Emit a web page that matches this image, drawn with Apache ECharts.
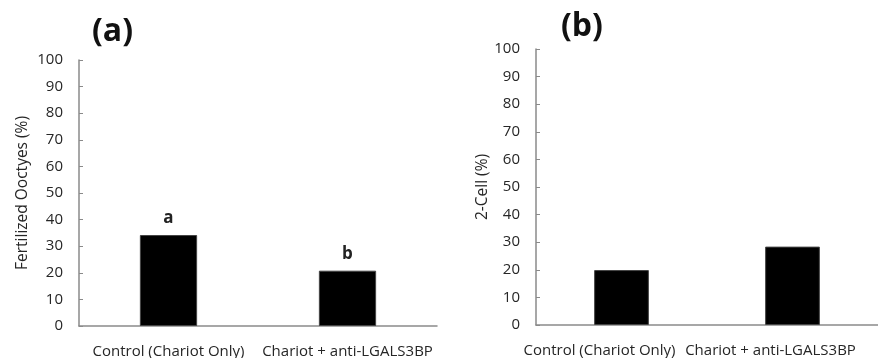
<!DOCTYPE html>
<html>
<head>
<meta charset="utf-8">
<script src="https://cdn.jsdelivr.net/npm/echarts@6/dist/echarts.min.js"></script>
<style>
  html, body { margin: 0; padding: 0; background: #fff; }
  #chart { width: 878px; height: 358px; }
</style>
</head>
<body>
<div id="chart"></div>
<script>
const categories = ["Control (Chariot Only)", "Chariot + anti-LGALS3BP"];
const fertilized = [34.2, 20.8];
const fertilizedLetters = ["a", "b"];
const twoCell = [19.9, 28.4];
const yTicks = [0, 10, 20, 30, 40, 50, 60, 70, 80, 90, 100];

const font = "Open Sans";
const textColor = "#262626";
const axisColor = "#8a8a8a";

const chart = echarts.init(document.getElementById("chart"));

function yAxisFor(gridIndex, name, gap) {
  return {
    type: "value",
    gridIndex: gridIndex,
    min: yTicks[0],
    max: yTicks[yTicks.length - 1],
    interval: 10,
    name: name,
    nameLocation: "middle",
    nameGap: gap,
    nameTextStyle: { fontFamily: font, fontSize: 15.5, color: textColor },
    axisLine: { show: true, lineStyle: { color: axisColor, width: 1.5 } },
    axisTick: { show: true, inside: true, length: 4, lineStyle: { color: axisColor } },
    axisLabel: { fontFamily: font, fontSize: 15, color: textColor, margin: 16 },
    splitLine: { show: false }
  };
}

function xAxisFor(gridIndex, pad) {
  return {
    type: "category",
    gridIndex: gridIndex,
    data: categories,
    axisLine: { show: true, lineStyle: { color: axisColor, width: 1.5 } },
    axisTick: { show: false },
    axisLabel: {
      fontFamily: font, fontSize: 15, color: textColor, margin: 18, interval: 0,
      padding: [0, pad, 0, 0]
    }
  };
}

chart.setOption({
  animation: false,
  title: [
    { text: "(a)", left: 87, top: 11, textStyle: { fontFamily: font, fontSize: 32, fontWeight: "bold", color: "#111" } },
    { text: "(b)", left: 556, top: 6, textStyle: { fontFamily: font, fontSize: 32, fontWeight: "bold", color: "#111" } }
  ],
  grid: [
    { left: 79, right: 441, top: 60, bottom: 32, outerBoundsMode: "none" },
    { left: 536, right: 0, top: 49, bottom: 33, outerBoundsMode: "none" }
  ],
  xAxis: [xAxisFor(0, 0), xAxisFor(1, 44)],
  yAxis: [
    yAxisFor(0, "Fertilized Ooctyes (%)", 48),
    yAxisFor(1, "2-Cell (%)", 44)
  ],
  series: [
    {
      type: "bar",
      xAxisIndex: 0,
      yAxisIndex: 0,
      data: fertilized,
      barWidth: "32%",
      itemStyle: { color: "#000", borderColor: "#444", borderWidth: 1 },
      label: {
        show: true,
        position: "top",
        distance: 8,
        fontFamily: font,
        fontSize: 17,
        fontWeight: "bold",
        color: "#222",
        formatter: (p) => fertilizedLetters[p.dataIndex]
      }
    },
    {
      type: "bar",
      xAxisIndex: 1,
      yAxisIndex: 1,
      data: twoCell,
      barWidth: "32%",
      itemStyle: { color: "#000", borderColor: "#444", borderWidth: 1 }
    }
  ]
});
</script>
</body>
</html>
